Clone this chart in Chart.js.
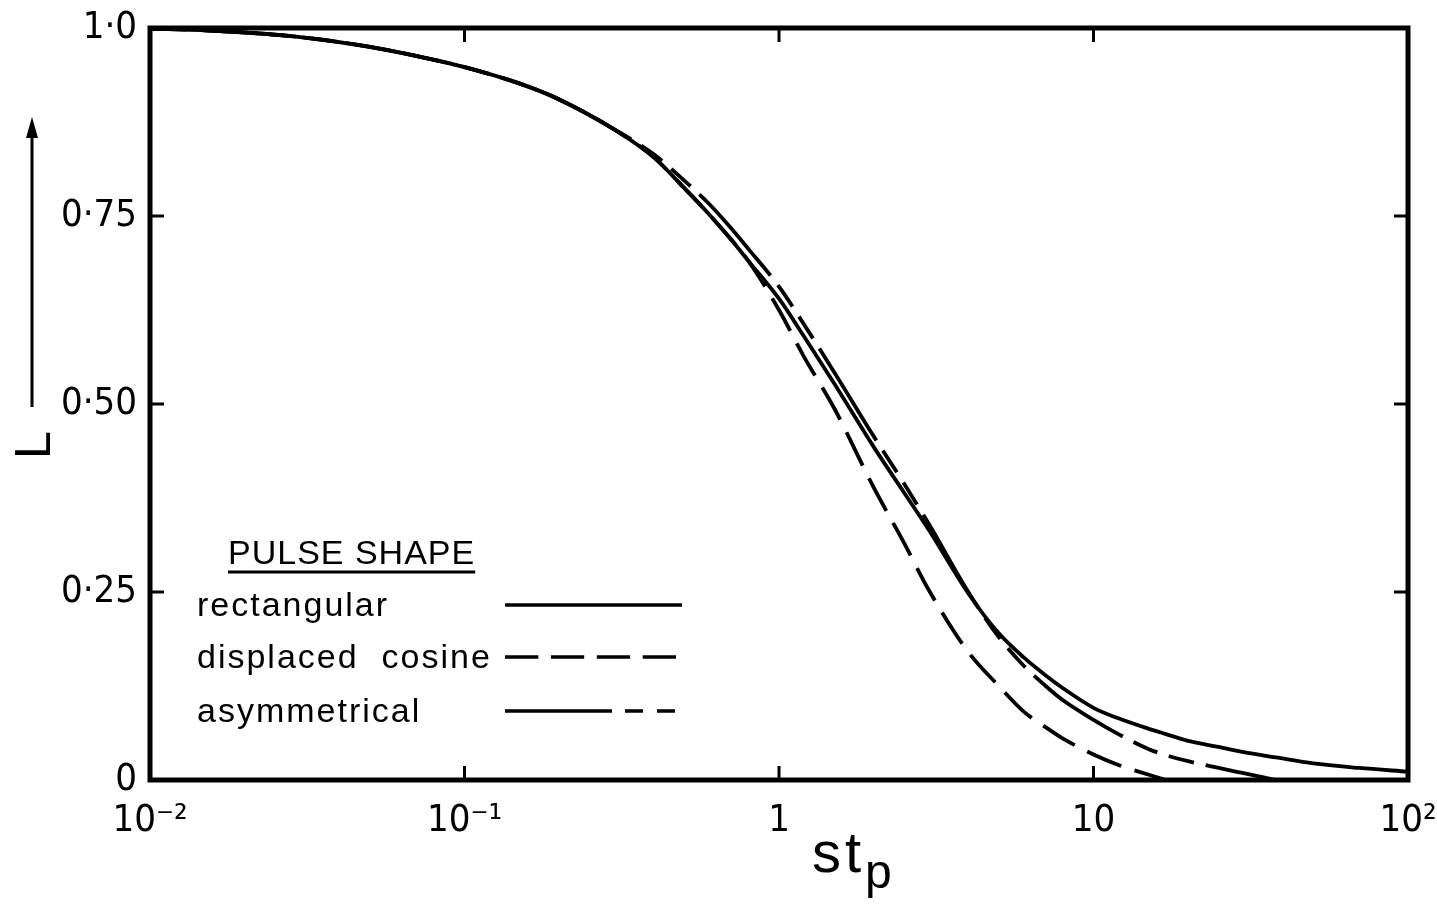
<!DOCTYPE html>
<html>
<head>
<meta charset="utf-8">
<script src="https://cdn.jsdelivr.net/npm/chart.js@4.4.0/dist/chart.umd.min.js"></script>
<style>
  html, body { margin: 0; padding: 0; background: #fff; }
  #wrap { width: 1437px; height: 917px; }
</style>
</head>
<body>
<div id="wrap"><canvas id="lossChart" width="1437" height="917"></canvas></div>
<script>
// st_p values (log axis)
const stp = [0.01, 0.015, 0.02, 0.03, 0.05, 0.07, 0.1, 0.15, 0.2, 0.3, 0.4, 0.5, 0.6, 0.7, 0.8,
             1, 1.2, 1.5, 2, 2.5, 3, 4, 5, 6, 7, 8, 10, 12, 15, 17, 20, 25, 30, 38, 50, 70, 100];
// L
const rectangular = [0.999, 0.997, 0.994, 0.988, 0.975, 0.963, 0.948, 0.926, 0.905, 0.865, 0.828, 0.787, 0.752, 0.72, 0.69,
                     0.64, 0.59, 0.527, 0.443, 0.382, 0.332, 0.248, 0.195, 0.163, 0.14, 0.122, 0.096, 0.082, 0.068, 0.061, 0.052, 0.044, 0.037, 0.03, 0.022, 0.016, 0.011];
const displacedCosine = [0.999, 0.997, 0.994, 0.988, 0.975, 0.963, 0.948, 0.926, 0.905, 0.865, 0.828, 0.787, 0.752, 0.72, 0.69,
                         0.625, 0.563, 0.494, 0.389, 0.315, 0.252, 0.17, 0.125, 0.091, 0.071, 0.055, 0.034, 0.02, 0.007, 0, null, null, null, null, null, null, null];
const asymmetrical = [0.999, 0.997, 0.994, 0.988, 0.975, 0.963, 0.948, 0.926, 0.905, 0.865, 0.832, 0.797, 0.766, 0.735, 0.706,
                      0.656, 0.606, 0.542, 0.457, 0.394, 0.34, 0.25, 0.19, 0.152, 0.126, 0.106, 0.08, 0.061, 0.041, 0.033, 0.025, 0.016, 0.009, 0, null, null, null];

const xTickValues = [0.01, 0.1, 1, 10, 100];
const xTickLabels = ['10\u207B\u00B2', '10\u207B\u00B9', '1', '10', '10\u00B2'];
const yTickValues = [0, 0.25, 0.5, 0.75, 1];
const yTickLabels = ['0', '0\u00B725', '0\u00B750', '0\u00B775', '1\u00B70'];

const seriesNames = ['rectangular', 'displaced  cosine', 'asymmetrical'];
const cosineDash = [37, 14];
const asymDash = [108, 12, 26, 12, 26, 12];

const tickFont = "'Liberation Sans Narrow', 'DejaVu Sans Condensed', 'Liberation Sans', sans-serif";
const textFont = "'Liberation Sans', sans-serif";

function pts(vals) {
    return stp.map((x, i) => ({ x: x, y: vals[i] }));
}

function seg(ctx, x1, y1, x2, y2) {
    ctx.beginPath();
    ctx.moveTo(x1, y1);
    ctx.lineTo(x2, y2);
    ctx.stroke();
}

const decor = {
    id: 'decor',
    afterDraw(chart) {
        const ctx = chart.ctx;
        const a = chart.chartArea;
        const xs = chart.scales.x, ys = chart.scales.y;
        ctx.save();
        ctx.strokeStyle = '#000';
        ctx.fillStyle = '#000';
        ctx.lineCap = 'butt';

        // frame
        ctx.lineWidth = 5;
        ctx.strokeRect(a.left, a.top, a.right - a.left, a.bottom - a.top);

        // inward ticks
        ctx.lineWidth = 3;
        xTickValues.slice(1, -1).forEach(v => {
            const px = xs.getPixelForValue(v);
            seg(ctx, px, a.bottom, px, a.bottom - 14);
            seg(ctx, px, a.top, px, a.top + 14);
        });
        yTickValues.slice(1, -1).forEach(v => {
            const py = ys.getPixelForValue(v);
            seg(ctx, a.left, py, a.left + 14, py);
            seg(ctx, a.right, py, a.right - 14, py);
        });

        // legend box
        ctx.textAlign = 'left';
        ctx.textBaseline = 'alphabetic';
        ctx.font = '34px ' + textFont;
        ctx.letterSpacing = '1px';
        ctx.fillText('PULSE SHAPE', 228, 564);
        const w = ctx.measureText('PULSE SHAPE').width;
        ctx.lineWidth = 3;
        seg(ctx, 228, 572, 228 + w, 572);

        ctx.letterSpacing = '2px';
        const rowsY = [605, 657, 711];
        const dashes = [[], cosineDash.map(d => d * 0.9), [107, 13, 18, 14, 18, 20]];
        seriesNames.forEach((name, i) => {
            ctx.fillText(name, 197, rowsY[i] + 11);
            ctx.lineWidth = 3.5;
            ctx.setLineDash(dashes[i]);
            seg(ctx, 505, rowsY[i], 682, rowsY[i]);
            ctx.setLineDash([]);
        });
        ctx.letterSpacing = '0px';

        // x axis title  st_p
        ctx.font = '58px ' + textFont;
        ctx.letterSpacing = '4px';
        ctx.fillText('st', 812, 872);
        const sw = ctx.measureText('st').width;
        ctx.letterSpacing = '0px';
        ctx.font = '48px ' + textFont;
        ctx.fillText('p', 812 + sw, 888);

        // y axis title: rotated L with arrow
        ctx.save();
        ctx.translate(50, 459);
        ctx.rotate(-Math.PI / 2);
        ctx.font = '50px ' + textFont;
        ctx.fillText('L', 0, 0);
        ctx.restore();

        ctx.lineWidth = 3;
        seg(ctx, 32, 407, 32, 132);
        ctx.beginPath();
        ctx.moveTo(32, 117);
        ctx.lineTo(26, 138);
        ctx.lineTo(38, 138);
        ctx.closePath();
        ctx.fill();

        ctx.restore();
    }
};

const ctx = document.getElementById('lossChart').getContext('2d');
new Chart(ctx, {
    type: 'line',
    data: {
        datasets: [{
            label: seriesNames[0],
            data: pts(rectangular),
            borderColor: '#000',
            borderWidth: 3.8
        }, {
            label: seriesNames[1],
            data: pts(displacedCosine),
            borderColor: '#000',
            borderWidth: 3.8,
            borderDash: cosineDash
        }, {
            label: seriesNames[2],
            data: pts(asymmetrical),
            borderColor: '#000',
            borderWidth: 3.8,
            borderDash: asymDash
        }]
    },
    options: {
        responsive: false,
        animation: false,
        parsing: false,
        spanGaps: false,
        elements: {
            point: { radius: 0 },
            line: { cubicInterpolationMode: 'monotone', fill: false }
        },
        layout: { padding: { top: 28, right: 29, left: 0, bottom: 0 } },
        plugins: { legend: { display: false }, tooltip: { enabled: false } },
        scales: {
            x: {
                type: 'logarithmic',
                min: 0.01,
                max: 100,
                grid: { display: false, drawTicks: false },
                border: { display: false },
                afterBuildTicks: s => { s.ticks = xTickValues.map(v => ({ value: v })); },
                afterFit: s => { s.height = 137; s.paddingLeft = 0; s.paddingRight = 0; },
                ticks: {
                    autoSkip: false,
                    maxRotation: 0,
                    padding: 18,
                    color: '#000',
                    font: { family: tickFont, size: 38 },
                    callback: (v, i) => xTickLabels[i]
                }
            },
            y: {
                type: 'linear',
                min: 0,
                max: 1,
                grid: { display: false, drawTicks: false },
                border: { display: false },
                afterBuildTicks: s => { s.ticks = yTickValues.map(v => ({ value: v })); },
                afterFit: s => { s.width = 150; s.paddingTop = 0; s.paddingBottom = 0; },
                ticks: {
                    padding: 13,
                    color: '#000',
                    font: { family: tickFont, size: 38 },
                    callback: (v, i) => yTickLabels[i]
                }
            }
        }
    },
    plugins: [decor]
});
</script>
</body>
</html>
